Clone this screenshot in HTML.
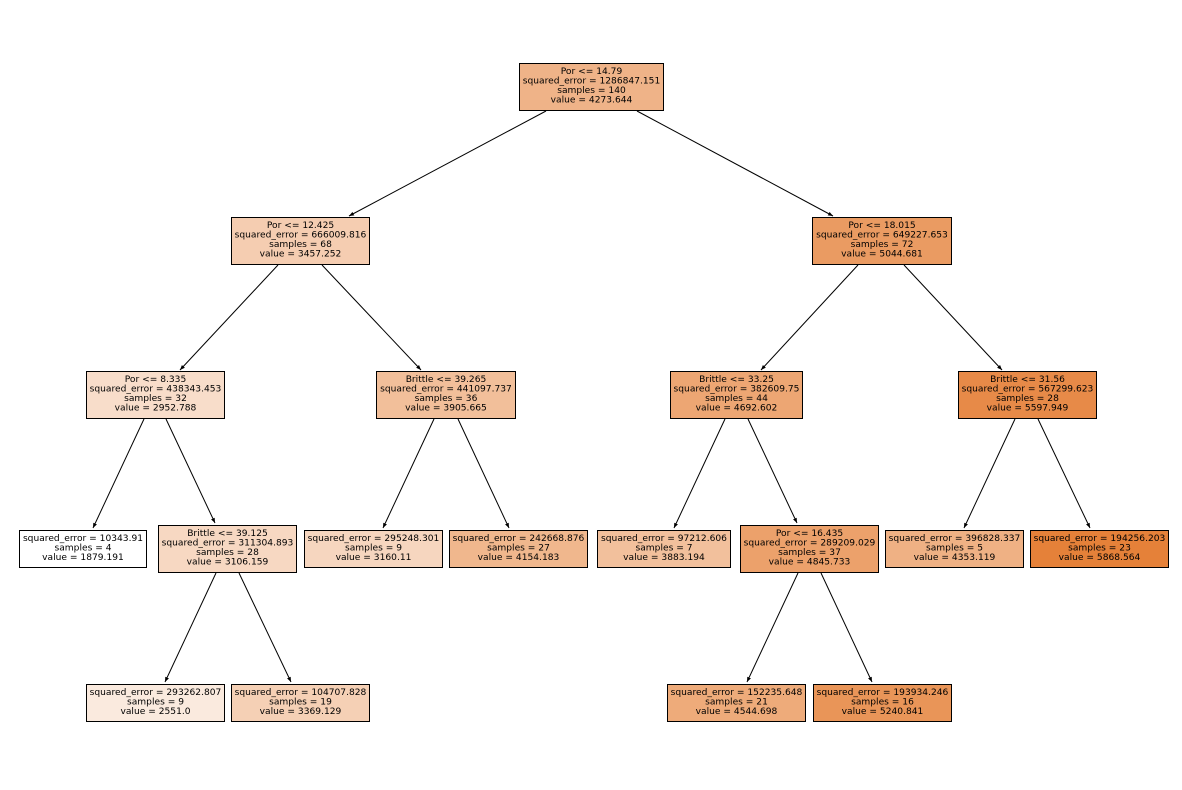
<!DOCTYPE html>
<html><head><meta charset="utf-8"><style>html,body{margin:0;padding:0;background:#fff}svg{display:block}text{font-family:"DejaVu Sans",sans-serif;font-size:9.1px;text-anchor:middle;fill:#000}</style></head><body>
<svg width="1182" height="790" viewBox="0 0 1182 790" xmlns="http://www.w3.org/2000/svg">
<defs><marker id="a" viewBox="0 0 10 10" refX="10" refY="5" markerWidth="5" markerHeight="5" orient="auto"><path d="M0,1 L10,5 L0,9 z" fill="#000"/></marker></defs>
<g stroke="#000" stroke-width="1" marker-end="url(#a)">
<line x1="546" y1="111" x2="349" y2="216"/><line x1="637" y1="111" x2="833" y2="216"/>
<line x1="278" y1="265" x2="180" y2="370"/><line x1="322" y1="265" x2="421" y2="370"/>
<line x1="858" y1="265" x2="761" y2="370"/><line x1="904" y1="265" x2="1002" y2="370"/>
<line x1="144" y1="419" x2="93" y2="528"/><line x1="166" y1="419" x2="215" y2="523"/>
<line x1="434" y1="419" x2="383" y2="528"/><line x1="458" y1="419" x2="509" y2="528"/>
<line x1="725" y1="419" x2="674" y2="528"/><line x1="748" y1="419" x2="797" y2="523"/>
<line x1="1015" y1="419" x2="964" y2="528"/><line x1="1038" y1="419" x2="1090" y2="528"/>
<line x1="216" y1="573" x2="165" y2="682"/><line x1="239" y1="573" x2="291" y2="682"/>
<line x1="798" y1="573" x2="747" y2="682"/><line x1="821" y1="573" x2="872" y2="682"/>
</g>
<g stroke="#000" stroke-width="1">
<rect x="519.5" y="63.5" width="144" height="47" fill="#efb388"/>
<rect x="231.5" y="217.5" width="138" height="47" fill="#f5cdb1"/>
<rect x="812.5" y="217.5" width="139" height="47" fill="#ea9b62"/>
<rect x="86.5" y="371.5" width="138" height="47" fill="#f8ddca"/>
<rect x="376.5" y="371.5" width="139" height="47" fill="#f2bf9a"/>
<rect x="670.5" y="371.5" width="132" height="47" fill="#eda673"/>
<rect x="958.5" y="371.5" width="138" height="47" fill="#e78a48"/>
<rect x="19.5" y="530.5" width="127" height="37" fill="#ffffff"/>
<rect x="158.5" y="525.5" width="138" height="47" fill="#f7d8c2"/>
<rect x="304.5" y="530.5" width="138" height="37" fill="#f6d6bf"/>
<rect x="449.5" y="530.5" width="138" height="37" fill="#f0b78d"/>
<rect x="597.5" y="530.5" width="133" height="37" fill="#f2c09c"/>
<rect x="740.5" y="525.5" width="138" height="47" fill="#eca16b"/>
<rect x="885.5" y="530.5" width="138" height="37" fill="#efb184"/>
<rect x="1030.5" y="530.5" width="138" height="37" fill="#e58139"/>
<rect x="86.5" y="684.5" width="138" height="37" fill="#faeade"/>
<rect x="231.5" y="684.5" width="138" height="37" fill="#f5d0b5"/>
<rect x="667.5" y="684.5" width="138" height="37" fill="#eeab7a"/>
<rect x="813.5" y="684.5" width="138" height="37" fill="#e99558"/>
</g>
<text x="591.5" y="74">Por &lt;= 14.79</text><text x="591.5" y="83.5">squared_error = 1286847.151</text><text x="591.5" y="93">samples = 140</text><text x="591.5" y="102.5">value = 4273.644</text>
<text x="300.5" y="228">Por &lt;= 12.425</text><text x="300.5" y="237.5">squared_error = 666009.816</text><text x="300.5" y="247">samples = 68</text><text x="300.5" y="256.5">value = 3457.252</text>
<text x="882" y="228">Por &lt;= 18.015</text><text x="882" y="237.5">squared_error = 649227.653</text><text x="882" y="247">samples = 72</text><text x="882" y="256.5">value = 5044.681</text>
<text x="155.5" y="382">Por &lt;= 8.335</text><text x="155.5" y="391.5">squared_error = 438343.453</text><text x="155.5" y="401">samples = 32</text><text x="155.5" y="410.5">value = 2952.788</text>
<text x="446" y="382">Brittle &lt;= 39.265</text><text x="446" y="391.5">squared_error = 441097.737</text><text x="446" y="401">samples = 36</text><text x="446" y="410.5">value = 3905.665</text>
<text x="736.5" y="382">Brittle &lt;= 33.25</text><text x="736.5" y="391.5">squared_error = 382609.75</text><text x="736.5" y="401">samples = 44</text><text x="736.5" y="410.5">value = 4692.602</text>
<text x="1027.5" y="382">Brittle &lt;= 31.56</text><text x="1027.5" y="391.5">squared_error = 567299.623</text><text x="1027.5" y="401">samples = 28</text><text x="1027.5" y="410.5">value = 5597.949</text>
<text x="83" y="541">squared_error = 10343.91</text><text x="83" y="550.5">samples = 4</text><text x="83" y="560">value = 1879.191</text>
<text x="227.5" y="536">Brittle &lt;= 39.125</text><text x="227.5" y="545.5">squared_error = 311304.893</text><text x="227.5" y="555">samples = 28</text><text x="227.5" y="564.5">value = 3106.159</text>
<text x="373.5" y="541">squared_error = 295248.301</text><text x="373.5" y="550.5">samples = 9</text><text x="373.5" y="560">value = 3160.11</text>
<text x="518.5" y="541">squared_error = 242668.876</text><text x="518.5" y="550.5">samples = 27</text><text x="518.5" y="560">value = 4154.183</text>
<text x="664" y="541">squared_error = 97212.606</text><text x="664" y="550.5">samples = 7</text><text x="664" y="560">value = 3883.194</text>
<text x="809.5" y="536">Por &lt;= 16.435</text><text x="809.5" y="545.5">squared_error = 289209.029</text><text x="809.5" y="555">samples = 37</text><text x="809.5" y="564.5">value = 4845.733</text>
<text x="954.5" y="541">squared_error = 396828.337</text><text x="954.5" y="550.5">samples = 5</text><text x="954.5" y="560">value = 4353.119</text>
<text x="1099.5" y="541">squared_error = 194256.203</text><text x="1099.5" y="550.5">samples = 23</text><text x="1099.5" y="560">value = 5868.564</text>
<text x="155.5" y="695">squared_error = 293262.807</text><text x="155.5" y="704.5">samples = 9</text><text x="155.5" y="714">value = 2551.0</text>
<text x="300.5" y="695">squared_error = 104707.828</text><text x="300.5" y="704.5">samples = 19</text><text x="300.5" y="714">value = 3369.129</text>
<text x="736.5" y="695">squared_error = 152235.648</text><text x="736.5" y="704.5">samples = 21</text><text x="736.5" y="714">value = 4544.698</text>
<text x="882.5" y="695">squared_error = 193934.246</text><text x="882.5" y="704.5">samples = 16</text><text x="882.5" y="714">value = 5240.841</text>
</svg>
</body></html>
